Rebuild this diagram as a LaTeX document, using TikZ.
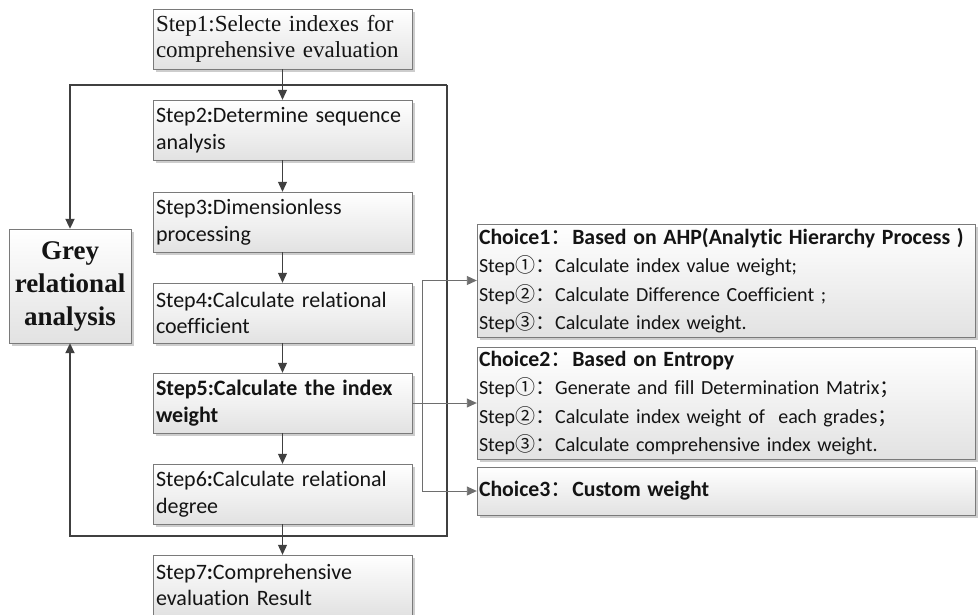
\documentclass[tikz,border=0pt]{standalone}
\usepackage{fontspec}
\setmainfont{Carlito}[Ligatures=NoCommon]
\newfontfamily\timesfont{Liberation Serif}
\newfontfamily\cjk{Noto Sans CJK SC}
\usetikzlibrary{arrows.meta,shadows}
\definecolor{ink}{HTML}{141414}
\definecolor{edgegray}{HTML}{7A7A7A}
\definecolor{arrowgray}{HTML}{404040}
\definecolor{linkgray}{HTML}{6E6E6E}
\definecolor{boxlow}{HTML}{E2E2E2}
\definecolor{shadowgray}{HTML}{CDCDCD}
\newcommand{\choicehead}[1]{{\fontsize{21.8}{28.5}\selectfont\bfseries #1}}
\newcommand{\wide}[1]{{\cjk\mdseries #1}}
\tikzset{
  >={Triangle[length=10pt,width=9pt]},
  every node/.style={text=ink},
  stepbox/.style={draw=edgegray,top color=white,bottom color=boxlow,
    drop shadow={shadow xshift=2.5pt,shadow yshift=-2.5pt,fill=shadowgray,opacity=1},
    align=left,inner xsep=3pt,inner ysep=0pt,text width=253pt,minimum height=60pt,
    font=\fontsize{22}{26.5}\selectfont},
  choicebox/.style={stepbox,inner xsep=2pt,text width=494pt,font=\fontsize{20}{28.5}\selectfont},
  greybox/.style={stepbox,text width=116pt,align=center,minimum height=114pt,
    font=\timesfont\bfseries\fontsize{27}{33}\selectfont},
  flow/.style={->,draw=arrowgray,line width=1pt},
  loopline/.style={->,draw=arrowgray,line width=2pt},
  choicearr/.style={->,draw=linkgray,line width=0.9pt}
}
\begin{document}
\begin{tikzpicture}[x=1pt,y=-1pt]
  \useasboundingbox (0,0) rectangle (979,614);

  % feedback frame round steps 2--6
  \coordinate (ftop) at (447,85);
  \coordinate (fbot) at (447,536);

  \node[greybox] (grey) at (70,286) {Grey\\relational\\analysis};

  \node[stepbox,font=\timesfont\fontsize{23}{26}\selectfont] (s1) at (282.5,39) {Step1:Selecte indexes for\\comprehensive evaluation};
  \node[stepbox] (s2) at (282.5,130) {Step2\textbf{:}Determine sequence\\analysis};
  \node[stepbox] (s3) at (282.5,222) {Step3\textbf{:}Dimensionless\\processing};
  \node[stepbox] (s4) at (282.5,313) {Step4\textbf{:}Calculate relational\\coefficient};
  \node[stepbox] (s5) at (282.5,403) {\bfseries Step5:Calculate the index\\weight};
  \node[stepbox] (s6) at (282.5,494) {Step6\textbf{:}Calculate relational\\degree};
  \node[stepbox] (s7) at (282.5,585) {Step7\textbf{:}Comprehensive\\evaluation Result};

  \node[choicebox,minimum height=113pt] (c1) at (726,280.5) {\choicehead{Choice1\wide{：}Based on AHP(Analytic Hierarchy Process )}\\
    Step\wide{①：}Calculate index value weight;\\
    Step\wide{②：}Calculate Difference Coefficient ;\\
    Step\wide{③：}Calculate index weight.};
  \node[choicebox,minimum height=112pt] (c2) at (726,403) {\choicehead{Choice2\wide{：}Based on Entropy}\\
    Step\wide{①：}Generate and fill Determination Matrix\wide{；}\\
    Step\wide{②：}Calculate index weight of \ each grades\wide{；}\\
    Step\wide{③：}Calculate comprehensive index weight.};
  \node[choicebox,minimum height=48pt] (c3) at (726,491) {\choicehead{Choice3\wide{：}Custom weight}};

  \draw[loopline] (ftop) -| (grey);
  \draw[loopline] (ftop) -- (fbot) -| (grey);

  \draw[flow] (s1) -- (s2);
  \draw[flow] (s2) -- (s3);
  \draw[flow] (s3) -- (s4);
  \draw[flow] (s4) -- (s5);
  \draw[flow] (s5) -- (s6);
  \draw[flow] (s6) -- (s7);

  \coordinate (split) at (422,403);
  \draw[choicearr] (s5.east) -- (c2.west);
  \draw[choicearr] (split) |- (c1);
  \draw[choicearr] (split) |- (c3);
\end{tikzpicture}
\end{document}
